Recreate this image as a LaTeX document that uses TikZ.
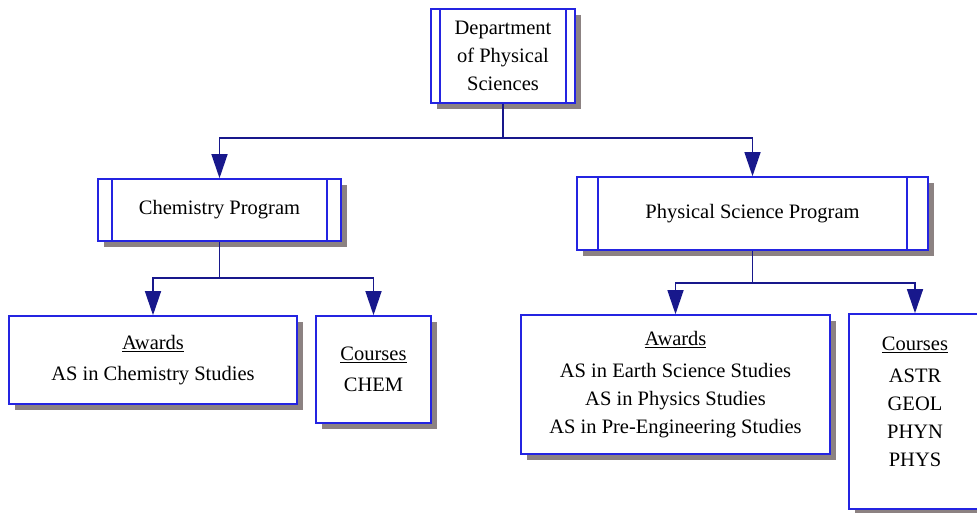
\documentclass[tikz,border=0pt]{standalone}
\usepackage{fontspec}
\setmainfont{Liberation Serif}
\usepackage{xcolor}
\usetikzlibrary{arrows.meta,shadows}

\definecolor{boxblue}{RGB}{36,36,225}
\definecolor{linknavy}{RGB}{24,24,140}
\definecolor{shadowgray}{RGB}{140,130,130}

\begin{document}
\begin{tikzpicture}[
    x=1pt, y=-1pt,
    box/.style={rectangle, draw=boxblue, line width=1.6pt, fill=white, inner sep=0pt,
                align=center, font=\fontsize{20.5}{28}\selectfont,
                drop shadow={shadow xshift=6pt, shadow yshift=-6pt, fill=shadowgray, opacity=1}},
    proc/.style={box, path picture={
        \draw[boxblue, line width=1.6pt]
            ([xshift=#1]path picture bounding box.north west) -- ([xshift=#1]path picture bounding box.south west)
            ([xshift=-#1]path picture bounding box.north east) -- ([xshift=-#1]path picture bounding box.south east);}},
    link/.style={draw=linknavy, line width=1.4pt},
    arr/.style={link, -{Triangle[length=24pt,width=16pt,fill=linknavy]}}
]
\useasboundingbox (0,0) rectangle (977,512);

% Department
\node[proc=9pt, minimum width=144pt, minimum height=94pt] (dept) at (503,56)
    {Department\\of Physical\\Sciences};

% Programs
\node[proc=14pt, minimum width=243pt, minimum height=62pt] (chem) at (219.5,210) {Chemistry Program};
\node[proc=21pt, minimum width=351pt, minimum height=73pt] (phys) at (752.5,213.5) {Physical Science Program};

% Chemistry leaves
\node[box, minimum width=288pt, minimum height=88pt] (chemaw) at (153,360)
    {\underline{Awards}\\[3pt]AS in Chemistry Studies};
\node[box, minimum width=115pt, minimum height=107pt] (chemco) at (373.5,369.5)
    {\underline{Courses}\\[3pt]CHEM};

% Physical Science leaves
\node[box, minimum width=309pt, minimum height=139pt] (physaw) at (675.5,384.5)
    {\underline{Awards}\\[4pt]AS in Earth Science Studies\\AS in Physics Studies\\AS in Pre-Engineering Studies};
\node[box, minimum width=132pt, minimum height=195pt] (physco) at (915,411.5)
    {\underline{Courses}\\[4pt]ASTR\\GEOL\\PHYN\\PHYS\\[-8pt]~};

% Connectors
\coordinate (dj) at (503,138);
\coordinate (cj) at (219.5,278);
\coordinate (pj) at (752.5,283);
\draw[link] (dept.south) -- (dj);
\draw[arr] (dj) -| (chem.north);
\draw[arr] (dj) -| (phys.north);
\draw[link] (chem.south) -- (cj);
\draw[arr] (cj) -| (chemaw.north);
\draw[arr] (cj) -| (chemco.north);
\draw[link] (phys.south) -- (pj);
\draw[arr] (pj) -| (physaw.north);
\draw[arr] (pj) -| (physco.north);

\end{tikzpicture}
\end{document}
